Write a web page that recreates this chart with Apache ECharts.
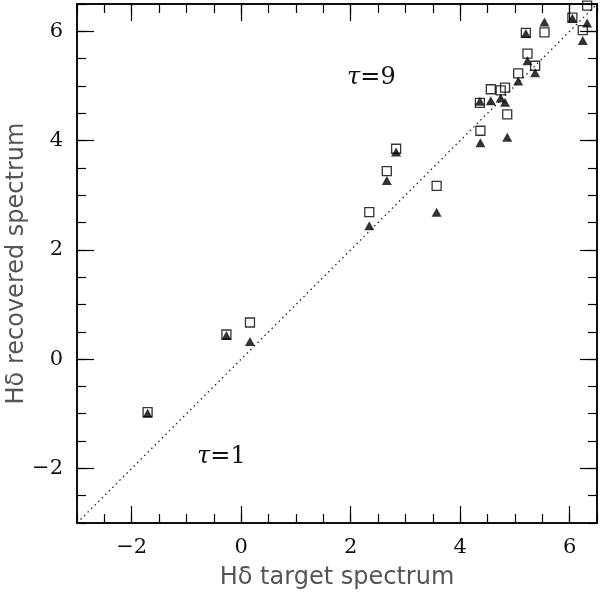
<!DOCTYPE html>
<html>
<head>
<meta charset="utf-8">
<script src="https://cdn.jsdelivr.net/npm/echarts@6/dist/echarts.min.js"></script>
<style>
  html, body { margin: 0; padding: 0; background: #fff; }
  #chart { width: 600px; height: 594px; }
</style>
</head>
<body>
<div id="chart"></div>
<script>
// H-delta: target spectrum (x) vs recovered spectrum (y), two fits per object
const targetX   = [-1.71, -0.27, 0.16, 2.34, 2.66, 2.83, 3.57, 4.36, 4.37, 4.56, 4.74, 4.82, 4.86, 5.06, 5.20, 5.23, 5.37, 5.54, 6.05, 6.24, 6.32];
const squareY   = [-0.97, 0.45, 0.67, 2.69, 3.44, 3.85, 3.17, 4.69, 4.18, 4.94, 4.92, 4.97, 4.48, 5.23, 5.97, 5.59, 5.37, 5.98, 6.25, 6.02, 6.47];
const triangleY = [-0.99, 0.43, 0.32, 2.44, 3.27, 3.79, 2.69, 4.72, 3.96, 4.73, 4.78, 4.70, 4.06, 5.09, 5.96, 5.46, 5.24, 6.17, 6.24, 5.83, 6.15];
const oneToOne  = [[-3, -3], [6.5, 6.5]];

const majorTicks = [-2, 0, 2, 4, 6];
const minorTicks = [-3, -2.5, -2, -1.5, -1, -0.5, 0, 0.5, 1, 1.5, 2, 2.5, 3, 3.5, 4, 4.5, 5, 5.5, 6, 6.5];
const axisMin = -3, axisMax = 6.5;

const chart = echarts.init(document.getElementById('chart'));

const tickFont = { fontFamily: 'DejaVu Serif', fontSize: 21, color: '#111' };

function makeAxis(position, showLabel, ticks, len, name) {
    const horizontal = position === 'bottom' || position === 'top';
    return {
        type: 'value',
        position: position,
        min: axisMin,
        max: axisMax,
        name: name || '',
        nameLocation: 'middle',
        nameGap: horizontal ? 43 : 48,
        nameMoveOverlap: false,
        nameTextStyle: { fontFamily: 'DejaVu Sans', fontSize: 24, color: '#555' },
        axisLine: { show: true, onZero: false, lineStyle: { color: '#000', width: 1.5 } },
        axisTick: { show: true, inside: true, length: len, customValues: ticks, lineStyle: { color: '#000', width: 1.2 } },
        axisLabel: Object.assign({ show: showLabel, customValues: majorTicks, margin: 14,
            formatter: v => (v < 0 ? '\u2212' + Math.abs(v) : String(v)) }, tickFont),
        splitLine: { show: false }
    };
}

chart.setOption({
    animation: false,
    backgroundColor: '#fff',
    grid: { left: 77, top: 4, width: 520, height: 519, containLabel: false, outerBoundsMode: 'none' },
    xAxis: [
        makeAxis('bottom', true, majorTicks, 17, 'H\u03b4 target spectrum'),
        makeAxis('bottom', false, minorTicks, 9),
        makeAxis('top', false, majorTicks, 17),
        makeAxis('top', false, minorTicks, 9)
    ],
    yAxis: [
        makeAxis('left', true, majorTicks, 17, 'H\u03b4 recovered spectrum'),
        makeAxis('left', false, minorTicks, 9),
        makeAxis('right', false, majorTicks, 17),
        makeAxis('right', false, minorTicks, 9)
    ],
    graphic: [
        { type: 'text', left: 347, top: 66, style: {
            text: '{t|\u03c4}{n|=9}',
            rich: { t: { fontFamily: 'DejaVu Serif', fontStyle: 'italic', fontSize: 24, fill: '#111' },
                    n: { fontFamily: 'DejaVu Serif', fontSize: 24, fill: '#111' } } } },
        { type: 'text', left: 197, top: 445, style: {
            text: '{t|\u03c4}{n|=1}',
            rich: { t: { fontFamily: 'DejaVu Serif', fontStyle: 'italic', fontSize: 24, fill: '#111' },
                    n: { fontFamily: 'DejaVu Serif', fontSize: 24, fill: '#111' } } } }
    ],
    series: [
        {
            type: 'line',
            data: oneToOne,
            symbol: 'none',
            lineStyle: { color: '#222', width: 1.3, type: [1.5, 3.5] },
            z: 1
        },
        {
            type: 'scatter',
            data: targetX.map((x, i) => [x, squareY[i]]),
            symbol: 'rect',
            symbolSize: 9,
            itemStyle: { color: 'rgba(0,0,0,0)', borderColor: '#000', borderWidth: 1.3 },
            z: 2
        },
        {
            type: 'scatter',
            data: targetX.map((x, i) => [x, triangleY[i]]),
            symbol: 'triangle',
            symbolSize: [10, 9],
            itemStyle: { color: '#000' },
            z: 3
        }
    ]
});
</script>
</body>
</html>
